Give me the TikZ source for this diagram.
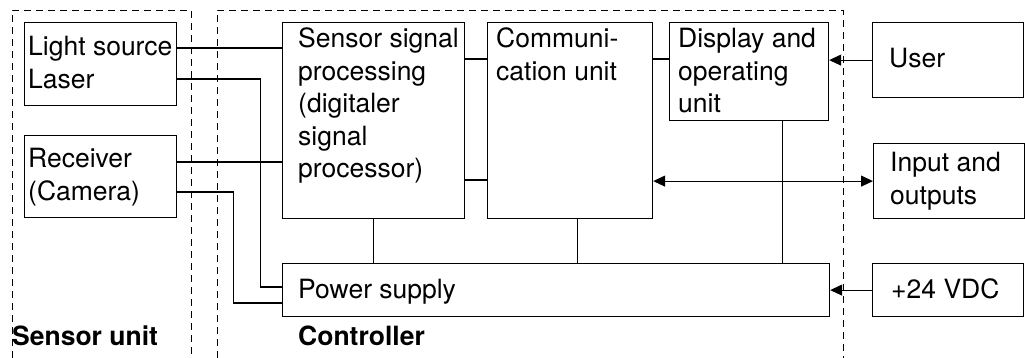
\documentclass[tikz,border=0pt]{standalone}
\usepackage{fontspec}
\setmainfont{TeX Gyre Heros}
\usetikzlibrary{arrows.meta,calc}
\begin{document}
\begin{tikzpicture}[x=1pt,y=-1pt,
  box/.style={draw, line width=1.2pt, rectangle, inner sep=0pt, anchor=north west},
  txt/.style={font=\fontsize{26.5}{32.5}\selectfont, align=left, inner sep=0pt, anchor=base west},
  lbl/.style={font=\fontsize{26.5}{32.5}\selectfont\bfseries, inner sep=0pt, anchor=base west},
  wire/.style={line width=1.1pt},
  arr/.style={line width=1.1pt, -{Triangle[length=12pt,width=11pt]}},
  darr/.style={line width=1.1pt, {Triangle[length=12pt,width=11pt]}-{Triangle[length=12pt,width=11pt]}},
  frame/.style={line width=0.9pt, dash pattern=on 7pt off 5pt}]
\useasboundingbox (0,0) rectangle (1025,358);
% frames
\draw[frame] (12,358) -- (12,10) -- (191,10) -- (191,358);
\draw[frame] (217,358) -- (217,10) -- (843,10) -- (843,358);
% boxes
\node[box, minimum width=152pt, minimum height=83pt] (light) at (24,22) {};
\node[box, minimum width=152pt, minimum height=82pt] (rec) at (24,135) {};
\node[box, minimum width=182pt, minimum height=196pt] (ssp) at (282,22) {};
\node[box, minimum width=165pt, minimum height=196pt] (comm) at (487,22) {};
\node[box, minimum width=159pt, minimum height=98pt] (disp) at (669,22) {};
\node[box, minimum width=547pt, minimum height=53pt] (power) at (282,263) {};
\node[box, minimum width=151pt, minimum height=75pt] (user) at (872,22) {};
\node[box, minimum width=151pt, minimum height=75pt] (io) at (873,143) {};
\node[box, minimum width=151pt, minimum height=53pt] (vdc) at (872,263) {};
% texts (anchor = baseline of the last line)
\node[txt] (tlight) at (28,88.5) {Light source\\Laser};
\node[txt] (trec) at (28,200.5) {Receiver\\(Camera)};
\node[txt] (tssp) at (298,178) {Sensor signal\\processing\\(digitaler\\signal\\processor)};
\node[txt] (tcomm) at (496,80.5) {Communi-\\cation unit};
\node[txt] (tdisp) at (678,113) {Display and\\operating\\unit};
\node[txt] (tpower) at (298,298) {Power supply};
\node[txt] (tuser) at (889,68) {User};
\node[txt] (tio) at (890,204.5) {Input and\\outputs};
\node[txt] (tvdc) at (891,298) {+24 VDC};
\node[lbl] (tsu) at (12,345) {Sensor unit};
\node[lbl] (tctl) at (298,345) {Controller};
% connector points
\coordinate (l1) at ($(light.north east)+(0,26)$);
\coordinate (l2) at ($(light.north east)+(0,57)$);
\coordinate (r1) at ($(rec.north east)+(0,27)$);
\coordinate (r2) at ($(rec.north east)+(0,57)$);
\coordinate (p1) at ($(power.north west)+(0,24)$);
\coordinate (p2) at ($(power.north west)+(0,40)$);
\coordinate (s1) at ($(ssp.north east)+(0,37)$);
\coordinate (s2) at ($(ssp.north east)+(0,158)$);
\coordinate (c1) at ($(comm.north east)+(0,37)$);
\coordinate (cb) at ($(comm.south)+(7.5,0)$);
\coordinate (db) at ($(disp.south east)+(-47,0)$);
% connectors
\draw[wire] (l1) -- (l1 -| ssp.west);
\draw[wire] (l2) -- ++(83,0) |- (p1);
\draw[wire] (r1) -- (r1 -| ssp.west);
\draw[wire] (r2) -- ++(56,0) |- (p2);
\draw[wire] (s1) -- (s1 -| comm.west);
\draw[wire] (s2) -- (s2 -| comm.west);
\draw[wire] (c1) -- (c1 -| disp.west);
\draw[wire] (ssp.south) -- (ssp.south |- power.north);
\draw[wire] (cb) -- (cb |- power.north);
\draw[wire] (db) -- (db |- power.north);
\draw[arr] (user.west) -- (user.west -| disp.east);
\draw[darr] (io.west -| comm.east) -- (io.west);
\draw[arr] (vdc.west) -- (vdc.west -| power.east);
\end{tikzpicture}
\end{document}
